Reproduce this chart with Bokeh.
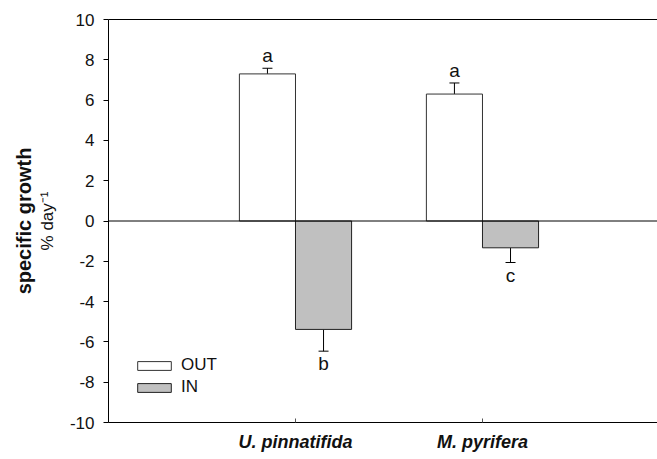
from bokeh.plotting import figure
from bokeh.models import (Range1d, FixedTicker, LinearAxis, Span, Whisker, TeeHead,
                          ColumnDataSource, Legend, LegendItem)
from bokeh.embed import file_html
from bokeh.resources import INLINE
from bokeh.core.properties import value

# ---- data ----
species = ["U. pinnatifida", "M. pyrifera"]
species_pos = [1, 2]
out_vals = [7.3, 6.3]
out_err = [0.28, 0.55]
in_vals = [-5.38, -1.33]
in_err = [1.08, 0.73]
out_letters = ["a", "a"]
in_letters = ["b", "c"]
y_ticks = [-10, -8, -6, -4, -2, 0, 2, 4, 6, 8, 10]
y_tick_labels = ["-10", "-8", "-6", "-4", "-2", "0", "2", "4", "6", "8", "10"]

FONT = "Liberation Sans"
dodge = 0.15
bar_w = 0.3

p = figure(width=657, height=459, output_backend="svg", toolbar_location=None,
           x_range=Range1d(0, 2.936), y_range=Range1d(-10, 10),
           min_border_left=108, min_border_right=0, min_border_top=19, min_border_bottom=37,
           x_axis_location="below")
p.outline_line_color = None
p.grid.visible = False
p.background_fill_color = "white"
p.border_fill_color = "white"

ya = p.yaxis[0]
ya.ticker = FixedTicker(ticks=y_ticks)
ya.major_label_overrides = {t: s for t, s in zip(y_ticks, y_tick_labels)}
ya.major_tick_in = 0
ya.major_tick_out = 5
ya.minor_tick_line_color = None
ya.axis_line_color = "black"
ya.major_tick_line_color = "black"
ya.major_label_text_font = FONT
ya.major_label_text_font_size = "17px"
ya.major_label_text_color = "#111111"
ya.major_label_standoff = 9
ya.axis_label = "% day\u207B\u00B9"
ya.axis_label_orientation = "parallel"
ya.axis_label_text_font = FONT
ya.axis_label_text_font_size = "17px"
ya.axis_label_text_font_style = "normal"
ya.axis_label_text_color = "#111111"
ya.axis_label_standoff = 10

ya2 = LinearAxis(ticker=FixedTicker(ticks=[]),
                 axis_line_color=None, major_tick_line_color=None,
                 minor_tick_line_color=None, major_label_standoff=0,
                 major_tick_in=0, major_tick_out=0,
                 axis_label="specific growth", axis_label_orientation="parallel",
                 axis_label_text_font=FONT,
                 axis_label_text_font_size="20px", axis_label_text_font_style="bold",
                 axis_label_text_color="#111111", axis_label_standoff=0)
p.add_layout(ya2, "left")

xa = p.xaxis[0]
xa.ticker = FixedTicker(ticks=species_pos)
xa.major_label_overrides = {pos: name for pos, name in zip(species_pos, species)}
xa.major_tick_in = 4
xa.major_tick_out = 0
xa.minor_tick_line_color = None
xa.major_tick_line_color = "#555555"
xa.axis_line_color = "black"
xa.major_label_text_font = FONT
xa.major_label_text_font_size = "18px"
xa.major_label_text_font_style = "bold italic"
xa.major_label_text_color = "#111111"
xa.major_label_standoff = 9

top = LinearAxis(ticker=FixedTicker(ticks=[]), axis_line_color="black",
                 major_tick_line_color=None, minor_tick_line_color=None,
                 major_label_standoff=0)
p.add_layout(top, "above")

out_x = [x - dodge for x in species_pos]
in_x = [x + dodge for x in species_pos]

src_out = ColumnDataSource(dict(x=out_x, top=out_vals,
                                up=[v + e for v, e in zip(out_vals, out_err)],
                                lab=out_letters))
src_in = ColumnDataSource(dict(x=in_x, top=in_vals,
                               lo=[v - e for v, e in zip(in_vals, in_err)],
                               lab=in_letters))

r_out = p.vbar(x="x", top="top", bottom=0, width=bar_w, source=src_out,
               fill_color="white", line_color="#333333", line_width=1)
r_in = p.vbar(x="x", top="top", bottom=0, width=bar_w, source=src_in,
              fill_color="#c0c0c0", line_color="#222222", line_width=1)

p.add_layout(Whisker(source=src_out, base="x", lower="top", upper="up",
                     line_color="black", line_width=1,
                     upper_head=TeeHead(size=10, line_color="black", line_width=1),
                     lower_head=None))
p.add_layout(Whisker(source=src_in, base="x", lower="lo", upper="top",
                     line_color="black", line_width=1,
                     lower_head=TeeHead(size=10, line_color="black", line_width=1),
                     upper_head=None))

p.text(x="x", y="up", text="lab", source=src_out, text_font=value(FONT),
       text_font_size="19px", text_align="center", text_baseline="bottom",
       y_offset=-2, text_color="#111111")
p.text(x="x", y="lo", text="lab", source=src_in, text_font=value(FONT),
       text_font_size="19px", text_align="center", text_baseline="top",
       y_offset=2, text_color="#111111")

p.add_layout(Span(location=0, dimension="width", line_color="black", line_width=1))

legend = Legend(items=[LegendItem(label="OUT", renderers=[r_out]),
                       LegendItem(label="IN", renderers=[r_in])],
                location=(25, 25), orientation="vertical",
                glyph_width=42, glyph_height=11, label_height=12, spacing=2,
                padding=0, margin=0, border_line_color=None,
                background_fill_alpha=0, label_standoff=6,
                label_text_font=FONT, label_text_font_size="17px",
                label_text_color="#111111")
p.add_layout(legend, "center")

open("out.html", "w").write(file_html(p, INLINE))
